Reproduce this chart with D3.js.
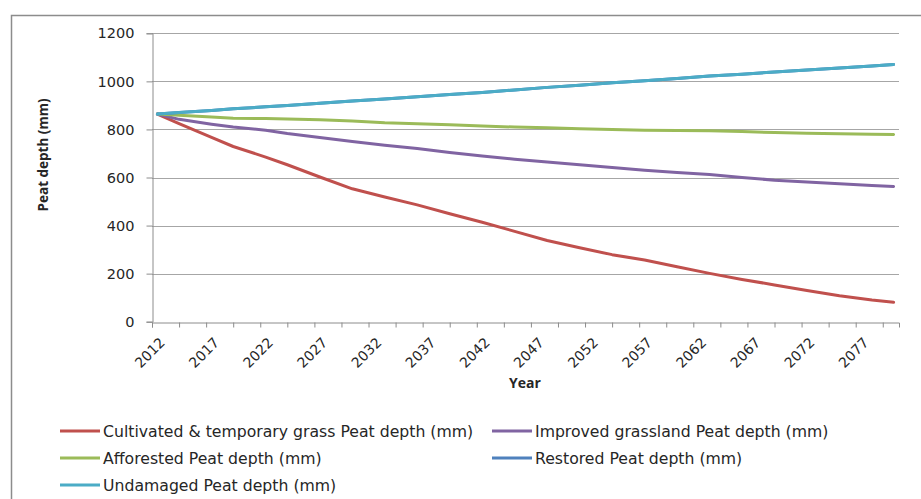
<!DOCTYPE html>
<html>
<head>
<meta charset="utf-8">
<script src="https://cdn.jsdelivr.net/npm/d3@7"></script>
<style>
  html, body { margin: 0; padding: 0; background: #fff; }
  svg { display: block; }
  text { fill: #262626; }
</style>
</head>
<body>
<svg id="chart" width="921" height="499"></svg>
<script>
// Peat depth projections by land use, 2012–2080
const years      = [2012, 2014, 2017, 2019, 2022, 2024, 2027, 2030, 2033, 2036, 2039, 2042, 2045, 2048, 2051, 2054, 2057, 2060, 2063, 2066, 2069, 2072, 2075, 2078, 2080];
const cultivated = [864, 824, 767, 729, 685, 653, 602, 553, 519, 486, 449, 414, 376, 338, 308, 279, 257, 229, 201, 176, 153, 130, 108, 90, 81];
const improved   = [864, 842, 822, 810, 797, 783, 766, 750, 734, 721, 704, 689, 676, 664, 653, 642, 630, 621, 612, 600, 589, 581, 574, 567, 563];
const afforested = [864, 859, 852, 847, 845, 843, 840, 835, 828, 824, 820, 814, 810, 807, 803, 800, 797, 796, 795, 791, 787, 784, 782, 780, 779];
const restored   = [864, 870, 879, 886, 894, 900, 909, 918, 927, 936, 945, 954, 964, 975, 984, 994, 1003, 1012, 1022, 1030, 1039, 1047, 1056, 1064, 1070];
const undamaged  = [864, 870, 879, 886, 894, 900, 909, 918, 927, 936, 945, 954, 964, 975, 984, 994, 1003, 1012, 1022, 1030, 1039, 1047, 1056, 1064, 1070];

const seriesNames = [
  "Cultivated & temporary grass Peat depth (mm)",
  "Improved grassland Peat depth (mm)",
  "Afforested Peat depth (mm)",
  "Restored Peat depth (mm)",
  "Undamaged Peat depth (mm)"
];
const seriesValues = [cultivated, improved, afforested, restored, undamaged];
const seriesColors = ["#C0504D", "#8064A2", "#9BBB59", "#4F81BD", "#4BACC6"];

const yTicks = [0, 200, 400, 600, 800, 1000, 1200];
const yearLabels = d3.range(2012, 2078, 5);          // 2012, 2017, ... 2077
const yearTicks = d3.range(0, 28).map(i => 2011.5 + i * 2.5);

const svg = d3.select("#chart");

// chart frame
svg.append("rect")
  .attr("x", 11.5).attr("y", 15.5)
  .attr("width", 1000).attr("height", 600)
  .attr("fill", "none").attr("stroke", "#8c8c8c").attr("stroke-width", 1.5);

const plot = { left: 152, right: 899, top: 33.3, bottom: 321.7 };

const x = d3.scaleLinear().domain([2011.5, 2080.5]).range([plot.left, plot.right]);
const y = d3.scaleLinear().domain([0, 1200]).range([plot.bottom, plot.top]);

// horizontal gridlines
svg.append("g")
  .selectAll("line")
  .data(yTicks.filter(d => d > 0))
  .join("line")
  .attr("x1", plot.left).attr("x2", plot.right)
  .attr("y1", d => Math.round(y(d)) + 0.5).attr("y2", d => Math.round(y(d)) + 0.5)
  .attr("stroke", "#a6a6a6").attr("stroke-width", 1);

// y axis
const yAxis = svg.append("g")
  .attr("transform", `translate(${plot.left + 0.5},0)`)
  .call(d3.axisLeft(y).tickValues(yTicks).tickSize(6).tickPadding(12).tickFormat(d3.format("d")));
yAxis.select(".domain").attr("stroke", "#8c8c8c");
yAxis.selectAll(".tick line").attr("stroke", "#8c8c8c");
yAxis.selectAll(".tick text")
  .attr("font-family", "'DejaVu Sans', sans-serif")
  .attr("font-size", 14.5).attr("fill", "#262626");

// x axis: tick marks
const xAxis = svg.append("g")
  .attr("transform", `translate(0,${Math.round(plot.bottom) + 0.5})`)
  .call(d3.axisBottom(x).tickValues(yearTicks).tickSize(5).tickFormat(""));
xAxis.select(".domain").attr("stroke", "#8c8c8c");
xAxis.selectAll(".tick line").attr("stroke", "#8c8c8c");

// x axis: rotated year labels
const xLabels = svg.append("g")
  .attr("transform", `translate(0,${Math.round(plot.bottom) + 0.5})`)
  .call(d3.axisBottom(x).tickValues(yearLabels).tickSize(0).tickFormat(d3.format("d")));
xLabels.select(".domain").remove();
xLabels.selectAll(".tick text")
  .attr("font-family", "'DejaVu Sans', sans-serif")
  .attr("font-size", 14).attr("fill", "#262626")
  .attr("text-anchor", "end")
  .attr("y", 0).attr("dy", 0)
  .attr("transform", "translate(8,21) rotate(-45)");

// axis titles
svg.append("text")
  .attr("transform", "translate(48,155) rotate(-90)")
  .attr("text-anchor", "middle")
  .attr("font-family", "'Open Sans', sans-serif")
  .attr("font-weight", "bold").attr("font-size", 13.5)
  .text("Peat depth (mm)");

svg.append("text")
  .attr("x", 525).attr("y", 388)
  .attr("text-anchor", "middle")
  .attr("font-family", "'Open Sans', sans-serif")
  .attr("font-weight", "bold").attr("font-size", 14)
  .text("Year");

// series lines
const line = d3.line()
  .x(d => x(d[0]))
  .y(d => y(d[1]));

svg.append("g")
  .selectAll("path")
  .data(seriesValues)
  .join("path")
  .attr("d", vals => line(years.map((yr, i) => [yr, vals[i]])))
  .attr("fill", "none")
  .attr("stroke", (d, i) => seriesColors[i])
  .attr("stroke-width", 3)
  .attr("stroke-linejoin", "round")
  .attr("stroke-linecap", "round");

// legend
const legendPos = [
  [60, 431], [492, 431],
  [60, 458], [492, 458],
  [60, 485]
];
const legend = svg.append("g")
  .selectAll("g")
  .data(seriesNames)
  .join("g")
  .attr("transform", (d, i) => `translate(${legendPos[i][0]},${legendPos[i][1]})`);
legend.append("line")
  .attr("x1", 0).attr("x2", 40).attr("y1", 0).attr("y2", 0)
  .attr("stroke", (d, i) => seriesColors[i]).attr("stroke-width", 3);
legend.append("text")
  .attr("x", 43).attr("y", 0).attr("dy", "0.36em")
  .attr("font-family", "'DejaVu Sans', sans-serif")
  .attr("font-size", 15.7).attr("fill", "#262626")
  .text(d => d);
</script>
</body>
</html>
